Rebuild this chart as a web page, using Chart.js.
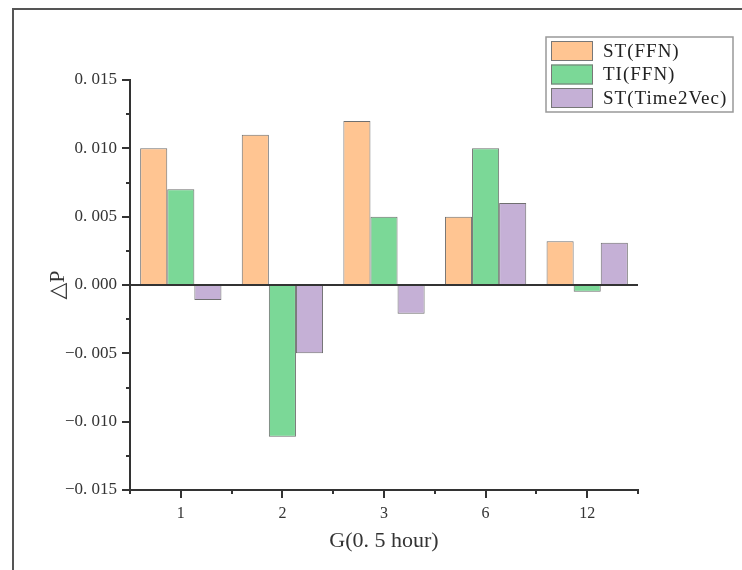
<!DOCTYPE html>
<html>
<head>
<meta charset="utf-8">
<script src="https://cdn.jsdelivr.net/npm/chart.js@4"></script>
<style>
  html, body { margin: 0; padding: 0; background: #fff; }
  #wrap { width: 742px; height: 570px; position: relative; }
</style>
</head>
<body>
<div id="wrap"><canvas id="chart"></canvas></div>
<script>
// Chart data
const categories = ['1', '2', '3', '6', '12'];
const stFfn = [0.0100, 0.0110, 0.0120, 0.0050, 0.0032];
const tiFfn = [0.0070, -0.0111, 0.0050, 0.0100, -0.0005];
const stTime2Vec = [-0.0011, -0.0050, -0.0021, 0.0060, 0.0031];
const seriesNames = ['ST(FFN)', 'TI(FFN)', 'ST(Time2Vec)'];
const seriesColors = ['#ffc592', '#7bd897', '#c5b0d6'];

const FONT = "'Liberation Serif', 'DejaVu Serif', serif";
const AXIS = '#333';

// y tick label like "0. 015" / "−0. 005"
function fmtTick(v) {
    const s = Math.abs(v).toFixed(3).replace('.', '. ');
    return (v < -1e-9 ? '\u22120. ' + s.slice(3) : s);
}

// outer frame (top and left lines of the screenshot)
const framePlugin = {
    id: 'frame',
    beforeDraw(chart) {
        const c = chart.ctx;
        c.save();
        c.strokeStyle = '#555';
        c.lineWidth = 2;
        c.beginPath();
        c.moveTo(13, 570);
        c.lineTo(13, 9);
        c.lineTo(742, 9);
        c.stroke();
        c.restore();
    }
};

// major / minor tick marks, pointing outwards
const ticksPlugin = {
    id: 'tickMarks',
    afterDraw(chart) {
        const c = chart.ctx;
        const xs = chart.scales.x, ys = chart.scales.y;
        c.save();
        c.strokeStyle = AXIS;
        c.lineWidth = 2;
        c.beginPath();
        ys.ticks.forEach((t, i) => {
            const y = Math.round(ys.getPixelForValue(t.value));
            const len = (i % 2 === 0) ? 8 : 4;
            c.moveTo(ys.right - len, y);
            c.lineTo(ys.right, y);
        });
        const n = categories.length;
        const step = (xs.right - xs.left) / n;
        for (let i = 0; i < n; i++) {
            const x = Math.round(xs.getPixelForValue(i));
            c.moveTo(x, xs.top);
            c.lineTo(x, xs.top + 8);
        }
        for (let i = 0; i <= n; i++) {
            const x = Math.round(xs.left + i * step);
            c.moveTo(x, xs.top);
            c.lineTo(x, xs.top + 4);
        }
        c.stroke();
        c.restore();
    }
};

// legend box in the upper right
const legendPlugin = {
    id: 'boxLegend',
    afterDraw(chart) {
        const c = chart.ctx;
        const x0 = 546, y0 = 37, w = 187, h = 75;
        c.save();
        c.fillStyle = '#fff';
        c.fillRect(x0, y0, w, h);
        c.strokeStyle = '#999';
        c.lineWidth = 1.5;
        c.strokeRect(x0, y0, w, h);
        chart.data.datasets.forEach((ds, i) => {
            const ry = y0 + 4 + i * 23.5;
            c.fillStyle = ds.backgroundColor;
            c.fillRect(x0 + 5, ry, 42, 20);
            c.strokeStyle = '#777';
            c.lineWidth = 1;
            c.strokeRect(x0 + 5.5, ry + 0.5, 41, 19);
            c.fillStyle = '#222';
            c.font = '19px ' + FONT;
            c.letterSpacing = '1px';
            c.textBaseline = 'middle';
            c.textAlign = 'left';
            c.fillText(ds.label, x0 + 57, ry + 11);
        });
        c.restore();
    }
};

new Chart(document.getElementById('chart'), {
    type: 'bar',
    data: {
        labels: categories,
        datasets: [stFfn, tiFfn, stTime2Vec].map((vals, i) => ({
            label: seriesNames[i],
            data: vals,
            backgroundColor: seriesColors[i],
            borderColor: '#6f6f6f',
            borderWidth: 1,
            barPercentage: 1.0,
            categoryPercentage: 0.8
        }))
    },
    options: {
        responsive: true,
        maintainAspectRatio: false,
        animation: false,
        devicePixelRatio: 1,
        layout: { padding: { left: 0, top: 80, right: 104, bottom: 0 } },
        plugins: {
            legend: { display: false },
            tooltip: { enabled: false }
        },
        scales: {
            x: {
                grid: {
                    display: true,
                    drawOnChartArea: false,
                    tickLength: 8,
                    tickColor: 'transparent'
                },
                border: { display: true, color: AXIS, width: 2 },
                ticks: {
                    color: '#333',
                    padding: 6,
                    font: { family: FONT, size: 16 }
                },
                title: {
                    display: true,
                    text: 'G(0. 5 hour)',
                    color: '#333',
                    font: { family: FONT, size: 22 },
                    padding: { top: 0, bottom: 16 }
                },
                afterFit(scale) { scale.height = 80; }
            },
            y: {
                min: -0.015,
                max: 0.015,
                grid: {
                    display: true,
                    drawOnChartArea: true,
                    tickLength: 8,
                    tickColor: 'transparent',
                    lineWidth: 2,
                    color: (ctx) => (ctx.tick && Math.abs(ctx.tick.value) < 1e-9) ? AXIS : 'transparent'
                },
                border: { display: true, color: AXIS, width: 2 },
                ticks: {
                    stepSize: 0.0025,
                    color: '#333',
                    padding: 5,
                    font: { family: FONT, size: 17 },
                    callback: (v, i) => (i % 2 === 0 ? fmtTick(v) : '')
                },
                title: {
                    display: true,
                    text: '\u25B3P',
                    color: '#333',
                    font: { family: FONT, size: 22 },
                    padding: { top: 45, bottom: 45 }
                },
                afterFit(scale) { scale.width = 130; }
            }
        }
    },
    plugins: [framePlugin, ticksPlugin, legendPlugin]
});
</script>
</body>
</html>
